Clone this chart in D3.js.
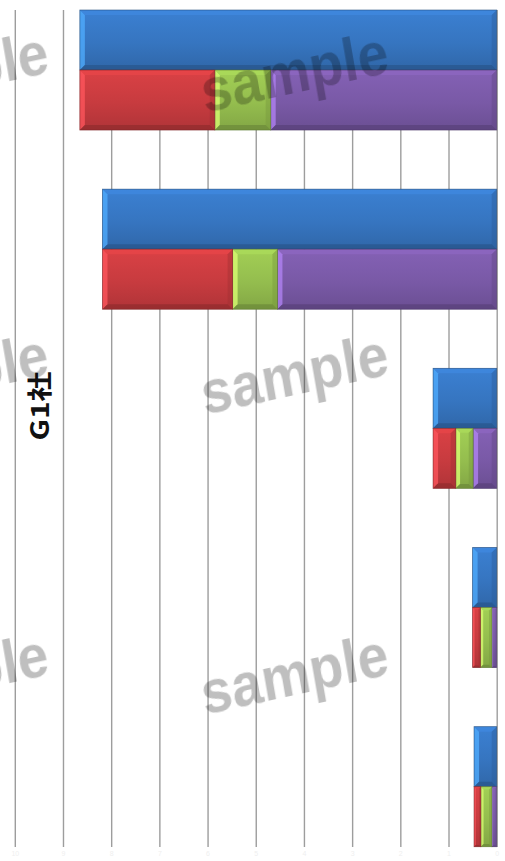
<!DOCTYPE html>
<html>
<head>
<meta charset="utf-8">
<script src="https://cdn.jsdelivr.net/npm/d3@7"></script>
<style>
  html, body { margin: 0; padding: 0; background: #fff; }
  svg { display: block; }
</style>
</head>
<body>
<svg id="chart" width="505" height="861"></svg>
<script>
// ---- data ----
const groups = ["g1", "g2", "g3", "g4", "g5"];
const totals = [8.65, 8.18, 1.32, 0.50, 0.47];   // blue bar of each group
const partRed = [2.80, 2.70, 0.47, 0.16, 0.14];
const partGreen = [1.16, 0.93, 0.36, 0.24, 0.23];
const partPurple = [4.69, 4.55, 0.49, 0.10, 0.10];
const tickValues = [0, 1, 2, 3, 4, 5, 6, 7, 8, 9, 10];
const tickLabels = ["0", "1", "2", "3", "4", "5", "6", "7", "8", "9", "10"];
const axisTitle = "G1社";
const watermark = "sample";

// ---- layout ----
const plotTop = 10, plotBottom = 847;
const svg = d3.select("#chart");
const defs = svg.append("defs");

// value axis runs right-to-left: zero sits at the right edge
const x = d3.scaleLinear().domain([0, 10]).range([496.7, 14.8]);
const y0 = d3.scaleBand().domain(groups).range([plotTop, 846.7]).paddingInner(0.33).paddingOuter(0);
const y1 = d3.scaleBand().domain(["total", "parts"]).range([0, y0.bandwidth()]);

const colors = { total: "#3675c0", red: "#c73b3f", green: "#94bd4e", purple: "#7959a6" };

// vertical gridlines + faint tick labels
const axis = d3.axisBottom(x)
  .tickValues(tickValues)
  .tickFormat((d, i) => tickLabels[i])
  .tickSize(-(plotBottom - plotTop))
  .tickPadding(4);
const gAxis = svg.append("g")
  .attr("transform", `translate(0,${plotBottom})`)
  .call(axis);
gAxis.select(".domain").remove();
gAxis.selectAll(".tick line").attr("stroke", "#9d9d9d").attr("stroke-width", 1.4);
gAxis.selectAll(".tick text")
  .attr("fill", "#efefef")
  .attr("font-family", "Liberation Sans, Arial, sans-serif")
  .attr("font-size", 7);

// vertical gradient per colour for the bevelled look
function gradientFor(key) {
  const c = d3.color(colors[key]);
  const id = "grad-" + key;
  const gr = defs.append("linearGradient").attr("id", id)
    .attr("x1", 0).attr("y1", 0).attr("x2", 0).attr("y2", 1);
  gr.append("stop").attr("offset", "0%").attr("stop-color", c.brighter(0.25));
  gr.append("stop").attr("offset", "55%").attr("stop-color", c);
  gr.append("stop").attr("offset", "100%").attr("stop-color", c.darker(0.35));
  return `url(#${id})`;
}
const fills = {};
Object.keys(colors).forEach(k => fills[k] = gradientFor(k));

function bevelBar(g, key, bx, by, w, h) {
  const c = d3.color(colors[key]);
  const b = Math.max(1.2, Math.min(5, w / 4, h / 4));
  const bar = g.append("g");
  bar.append("rect").attr("x", bx).attr("y", by).attr("width", w).attr("height", h)
    .attr("fill", fills[key]);
  const poly = (pts, fill, op) => bar.append("polygon")
    .attr("points", pts.map(p => p.join(",")).join(" "))
    .attr("fill", fill).attr("opacity", op);
  // left highlight
  poly([[bx, by], [bx + b, by + b], [bx + b, by + h - b], [bx, by + h]], c.brighter(1.1), 0.75);
  // top highlight
  poly([[bx, by], [bx + w, by], [bx + w - b, by + b], [bx + b, by + b]], c.brighter(0.5), 0.55);
  // right shade
  poly([[bx + w, by], [bx + w, by + h], [bx + w - b, by + h - b], [bx + w - b, by + b]], c.darker(0.6), 0.45);
  // bottom shade
  poly([[bx, by + h], [bx + b, by + h - b], [bx + w - b, by + h - b], [bx + w, by + h]], c.darker(1.0), 0.6);
  bar.append("rect").attr("x", bx).attr("y", by).attr("width", w).attr("height", h)
    .attr("fill", "none").attr("stroke", c.darker(1.3)).attr("stroke-width", 0.8).attr("stroke-opacity", 0.7);
}

// stacked parts: purple nearest zero, then green, then red
const rows = groups.map((gname, i) => ({
  group: gname, total: totals[i], purple: partPurple[i], green: partGreen[i], red: partRed[i]
}));
const stack = d3.stack().keys(["purple", "green", "red"])(rows);

const gBars = svg.append("g");
rows.forEach((r, i) => {
  const gy = y0(r.group);
  // total bar
  bevelBar(gBars, "total", x(r.total), gy + y1("total"), x(0) - x(r.total), y1.bandwidth());
  // part bars
  stack.forEach(layer => {
    const seg = layer[i];
    const xl = x(seg[1]), xr = x(seg[0]);
    bevelBar(gBars, layer.key, xl, gy + y1("parts"), xr - xl, y1.bandwidth());
  });
});

// axis title (drawn slightly tall, like the rest of the figure)
svg.append("text")
  .attr("transform", `translate(49,406) scale(1,1.2) rotate(-90)`)
  .attr("text-anchor", "middle")
  .attr("font-family", "Noto Sans CJK JP, sans-serif")
  .attr("font-weight", "bold")
  .attr("font-size", 25)
  .attr("fill", "#111")
  .text(axisTitle);

// watermark tiles
const wmRows = [76, 378, 678];
const wmCols = [-45, 295];
const gWm = svg.append("g").style("mix-blend-mode", "multiply");
wmRows.forEach(wy => wmCols.forEach(wx => {
  gWm.append("text")
    .attr("transform", `translate(${wx},${wy}) scale(1,1.12) rotate(-11)`)
    .attr("text-anchor", "middle")
    .attr("dominant-baseline", "middle")
    .attr("font-family", "Liberation Sans, Arial, sans-serif")
    .attr("font-weight", "bold")
    .attr("font-size", 55)
    .attr("fill", "#8a8a8a")
    .attr("fill-opacity", 0.55)
    .text(watermark);
}));
</script>
</body>
</html>
